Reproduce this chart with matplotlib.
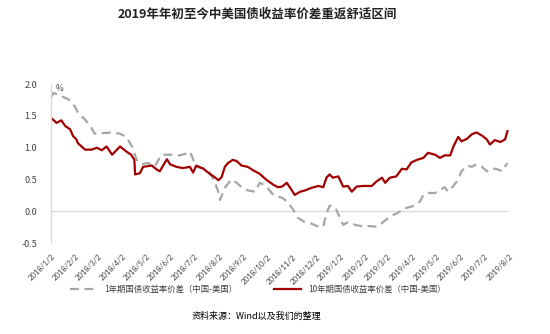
"""
中美国债收益率价差：1年期 vs 10年期（2018/1 - 2019/8）
"""

import pandas as pd
import matplotlib.pyplot as plt

plt.rcParams['font.family'] = ['Noto Sans CJK SC', 'DejaVu Sans']
plt.rcParams['axes.unicode_minus'] = False

# 1年期国债收益率价差（中国-美国），%
dates_1y = [
    '2018-01-02', '2018-01-05', '2018-01-13', '2018-01-24', '2018-02-01', '2018-02-05',
    '2018-02-14', '2018-02-22', '2018-02-26', '2018-03-09', '2018-03-20', '2018-03-30',
    '2018-04-07', '2018-04-14', '2018-04-20', '2018-04-26', '2018-05-04', '2018-05-13',
    '2018-05-21', '2018-06-01', '2018-06-13', '2018-06-22', '2018-06-26', '2018-07-04',
    '2018-07-15', '2018-07-21', '2018-07-27', '2018-08-01', '2018-08-03', '2018-08-09',
    '2018-08-17', '2018-08-24', '2018-08-30', '2018-09-07', '2018-09-16', '2018-09-22',
    '2018-09-30', '2018-10-09', '2018-10-21', '2018-10-28', '2018-11-03', '2018-11-09',
    '2018-11-18', '2018-11-26', '2018-12-05', '2018-12-11', '2018-12-15', '2018-12-19',
    '2018-12-26', '2019-01-02', '2019-01-05', '2019-01-11', '2019-01-20', '2019-01-28',
    '2019-02-08', '2019-02-16', '2019-02-23', '2019-03-05', '2019-03-15', '2019-03-24',
    '2019-03-30', '2019-04-05', '2019-04-12', '2019-04-16', '2019-04-22', '2019-05-01',
    '2019-05-07', '2019-05-13', '2019-05-17', '2019-05-24', '2019-05-30', '2019-06-03',
    '2019-06-10', '2019-06-16', '2019-06-22', '2019-06-29', '2019-07-05', '2019-07-11',
    '2019-07-17', '2019-07-24', '2019-07-31',
]
spread_1y = [
    1.79, 1.86, 1.82, 1.76, 1.65, 1.55,
    1.44, 1.31, 1.22, 1.23, 1.24, 1.22,
    1.17, 1.02, 0.81, 0.74, 0.76, 0.71,
    0.89, 0.89, 0.88, 0.91, 0.94, 0.70,
    0.67, 0.61, 0.47, 0.30, 0.18, 0.37,
    0.50, 0.45, 0.38, 0.33, 0.31, 0.45,
    0.40, 0.26, 0.21, 0.13, 0.03, -0.10,
    -0.17, -0.19, -0.24, -0.24, -0.03, 0.09,
    0.07, -0.13, -0.21, -0.17, -0.21, -0.23,
    -0.23, -0.24, -0.18, -0.08, -0.02, 0.05,
    0.07, 0.09, 0.16, 0.26, 0.29, 0.29,
    0.34, 0.38, 0.31, 0.40, 0.50, 0.63,
    0.72, 0.70, 0.74, 0.70, 0.63, 0.67,
    0.67, 0.63, 0.76,
]

# 10年期国债收益率价差（中国-美国），%
dates_10y = [
    '2018-01-02', '2018-01-09', '2018-01-15', '2018-01-20', '2018-01-26', '2018-01-30',
    '2018-02-03', '2018-02-05', '2018-02-14', '2018-02-22', '2018-03-01', '2018-03-07',
    '2018-03-13', '2018-03-20', '2018-03-30', '2018-04-07', '2018-04-13', '2018-04-17',
    '2018-04-18', '2018-04-24', '2018-04-28', '2018-05-09', '2018-05-15', '2018-05-19',
    '2018-05-28', '2018-06-01', '2018-06-09', '2018-06-17', '2018-06-26', '2018-06-30',
    '2018-07-04', '2018-07-13', '2018-07-21', '2018-07-27', '2018-08-01', '2018-08-05',
    '2018-08-09', '2018-08-13', '2018-08-19', '2018-08-24', '2018-08-30', '2018-09-07',
    '2018-09-13', '2018-09-22', '2018-09-30', '2018-10-09', '2018-10-15', '2018-10-20',
    '2018-10-26', '2018-11-01', '2018-11-05', '2018-11-12', '2018-11-18', '2018-11-26',
    '2018-12-05', '2018-12-11', '2018-12-15', '2018-12-19', '2018-12-23', '2018-12-30',
    '2019-01-05', '2019-01-11', '2019-01-16', '2019-01-22', '2019-01-30', '2019-02-10',
    '2019-02-16', '2019-02-23', '2019-02-27', '2019-03-05', '2019-03-13', '2019-03-20',
    '2019-03-26', '2019-04-01', '2019-04-08', '2019-04-16', '2019-04-22', '2019-05-01',
    '2019-05-07', '2019-05-13', '2019-05-20', '2019-05-24', '2019-05-30', '2019-06-03',
    '2019-06-10', '2019-06-16', '2019-06-22', '2019-06-29', '2019-07-05', '2019-07-09',
    '2019-07-15', '2019-07-22', '2019-07-28', '2019-07-31',
]
spread_10y = [
    1.47, 1.39, 1.43, 1.34, 1.29, 1.18,
    1.13, 1.07, 0.97, 0.97, 1.00, 0.96,
    1.02, 0.89, 1.02, 0.94, 0.89, 0.81,
    0.58, 0.60, 0.70, 0.72, 0.66, 0.63,
    0.82, 0.74, 0.70, 0.68, 0.70, 0.61,
    0.72, 0.67, 0.59, 0.54, 0.49, 0.54,
    0.70, 0.76, 0.81, 0.79, 0.72, 0.70,
    0.65, 0.59, 0.50, 0.42, 0.38, 0.39,
    0.45, 0.34, 0.26, 0.31, 0.33, 0.37,
    0.40, 0.38, 0.53, 0.58, 0.53, 0.55,
    0.39, 0.40, 0.31, 0.39, 0.40, 0.40,
    0.47, 0.53, 0.45, 0.53, 0.55, 0.67,
    0.66, 0.77, 0.81, 0.84, 0.92, 0.89,
    0.84, 0.88, 0.88, 1.02, 1.17, 1.10,
    1.14, 1.21, 1.24, 1.19, 1.13, 1.05,
    1.12, 1.09, 1.13, 1.26,
]

y_ticks = [-0.5, 0.0, 0.5, 1.0, 1.5, 2.0]

d1 = pd.to_datetime(dates_1y)
d10 = pd.to_datetime(dates_10y)

fig = plt.figure(figsize=(5.5, 3.34), dpi=100)
ax = fig.add_axes([0.0927, 0.2715, 0.8328, 0.477])

ax.plot(d1, spread_1y, color='#A6A6A6', lw=1.6, dashes=(4, 2.5),
        label='1年期国债收益率价差（中国-美国）')
ax.plot(d10, spread_10y, color='#A00000', lw=1.6,
        label='10年期国债收益率价差（中国-美国）')

ax.axhline(0, color='#D9D9D9', lw=0.9, zorder=0)

ax.set_xlim(pd.Timestamp('2018-01-02'), pd.Timestamp('2019-08-02'))
ax.set_ylim(-0.5, 2.0)
ax.set_yticks(y_ticks)
ax.yaxis.set_major_formatter(plt.FormatStrFormatter('%.1f'))

# monthly ticks on the 2nd, labelled like 2018/1/2
ticks = pd.date_range('2018-01-01', '2019-08-01', freq='MS') + pd.Timedelta(days=1)
ax.set_xticks(ticks)
ax.set_xticklabels([f'{t.year}/{t.month}/{t.day}' for t in ticks], family='Lato')
ax.tick_params(axis='x', length=0, pad=7, labelsize=5.6, labelcolor='#404040')
ax.tick_params(axis='y', length=0, pad=10, labelsize=6.5, labelcolor='#404040')
for lbl in ax.get_xticklabels():
    lbl.set_rotation(45)
    lbl.set_ha('right')
    lbl.set_va('top')
    lbl.set_rotation_mode('anchor')

for side in ['top', 'right', 'bottom']:
    ax.spines[side].set_visible(False)
ax.spines['left'].set_color('#D9D9D9')
ax.spines['left'].set_linewidth(0.9)

ax.text(0.01, 0.97, '%', transform=ax.transAxes, fontsize=6, color='#404040',
        ha='left', va='center')

fig.text(0.467, 0.958, '2019年年初至今中美国债收益率价差重返舒适区间',
         ha='center', va='center', fontsize=9, fontweight='bold', color='#222222')

fig.legend(loc='center', bbox_to_anchor=(0.469, 0.132), ncol=2, frameon=False,
           fontsize=6, handlelength=3.2, columnspacing=4.5, handletextpad=0.8,
           labelcolor='#404040')

fig.text(0.467, 0.052, '资料来源：Wind以及我们的整理', ha='center', va='center',
         fontsize=6.5, color='black')

plt.savefig('out.png', dpi=100)
